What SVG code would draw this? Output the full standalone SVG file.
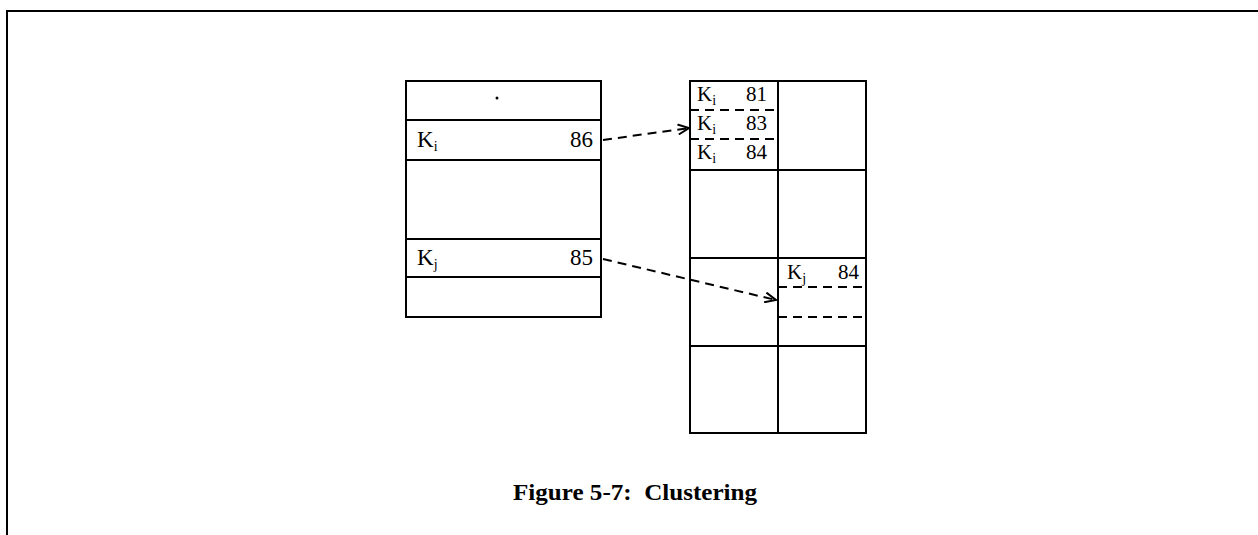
<svg xmlns="http://www.w3.org/2000/svg" width="1258" height="535" viewBox="0 0 1258 535">
<defs>
<style>
.b{fill:none;stroke:#000;stroke-width:2}
.d{fill:none;stroke:#000;stroke-width:2;stroke-dasharray:9,6}
.t{font-family:"Liberation Serif",serif;font-size:23px;fill:#000}
.r{font-family:"Liberation Serif",serif;font-size:21px;fill:#000}
.s{font-size:14px}
.cap{font-family:"Liberation Serif",serif;font-size:24px;font-weight:bold;fill:#000;white-space:pre}
</style>
<marker id="ah" markerWidth="14" markerHeight="12" refX="12" refY="6" orient="auto" markerUnits="userSpaceOnUse">
<path d="M1,1 L12,6 L1,11" fill="none" stroke="#000" stroke-width="2"/>
</marker>
</defs>
<rect width="1258" height="535" fill="#fff"/>
<path d="M7,535 V11 H1258" class="b"/>
<g id="left-table">
<rect x="406" y="81" width="195" height="236" class="b"/>
<line x1="406" y1="120" x2="601" y2="120" class="b"/>
<line x1="406" y1="160" x2="601" y2="160" class="b"/>
<line x1="406" y1="239" x2="601" y2="239" class="b"/>
<line x1="406" y1="277" x2="601" y2="277" class="b"/>
<circle cx="497" cy="98" r="1.5" fill="#000"/>
<text x="417" y="147" class="t">K<tspan class="s" dy="4">i</tspan></text>
<text x="593" y="147" class="t" text-anchor="end">86</text>
<text x="417" y="265" class="t">K<tspan class="s" dy="4">j</tspan></text>
<text x="593" y="265" class="t" text-anchor="end">85</text>
</g>
<g id="right-grid">
<rect x="690" y="81" width="176" height="352" class="b"/>
<line x1="778" y1="81" x2="778" y2="433" class="b"/>
<line x1="690" y1="170" x2="866" y2="170" class="b"/>
<line x1="690" y1="258" x2="866" y2="258" class="b"/>
<line x1="690" y1="346" x2="866" y2="346" class="b"/>
<line x1="690" y1="110" x2="778" y2="110" class="d"/>
<line x1="690" y1="139" x2="778" y2="139" class="d"/>
<line x1="778" y1="287" x2="866" y2="287" class="d"/>
<line x1="778" y1="317" x2="866" y2="317" class="d"/>
<text x="697" y="101" class="r">K<tspan class="s" dy="4">i</tspan></text>
<text x="767" y="101" class="r" text-anchor="end">81</text>
<text x="697" y="130" class="r">K<tspan class="s" dy="4">i</tspan></text>
<text x="767" y="130" class="r" text-anchor="end">83</text>
<text x="697" y="159" class="r">K<tspan class="s" dy="4">i</tspan></text>
<text x="767" y="159" class="r" text-anchor="end">84</text>
<text x="787" y="279" class="r">K<tspan class="s" dy="4">j</tspan></text>
<text x="859" y="279" class="r" text-anchor="end">84</text>
</g>
<g id="connectors">
<line x1="603" y1="140" x2="689" y2="128" class="d" marker-end="url(#ah)"/>
<line x1="603" y1="259" x2="776" y2="300" class="d" marker-end="url(#ah)"/>
</g>
<text x="513" y="500" class="cap" textLength="244" lengthAdjust="spacingAndGlyphs" xml:space="preserve">Figure 5-7:  Clustering</text>
</svg>
